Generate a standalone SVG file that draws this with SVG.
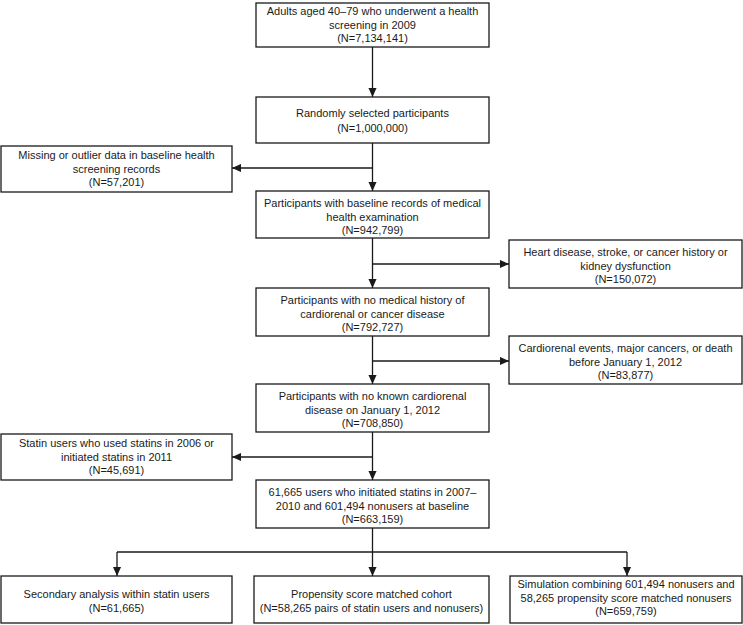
<svg xmlns="http://www.w3.org/2000/svg" width="743" height="625" viewBox="0 0 743 625">
<style>
.box{fill:#fff;stroke:#1a1a1a;stroke-width:1.3}
.t{font-family:"Liberation Sans",Arial,sans-serif;font-size:11px;fill:#1a1a1a;text-anchor:middle}
.ln{fill:none;stroke:#1a1a1a;stroke-width:1.3}
</style>
<defs>
<marker id="ah" viewBox="0 0 10 10" refX="10" refY="5" markerWidth="9" markerHeight="9" markerUnits="userSpaceOnUse" orient="auto">
<path d="M0,0.5 L10,5 L0,9.5 z" fill="#1a1a1a"/>
</marker>
</defs>
<rect width="743" height="625" fill="#fff"/>
<g id="connectors">
<path class="ln" d="M372.5,47 V97" marker-end="url(#ah)"/>
<path class="ln" d="M372.5,143 V191" marker-end="url(#ah)"/>
<path class="ln" d="M372.5,168 H232" marker-end="url(#ah)"/>
<path class="ln" d="M372.5,238 V288" marker-end="url(#ah)"/>
<path class="ln" d="M372.5,264 H509" marker-end="url(#ah)"/>
<path class="ln" d="M372.5,336 V384" marker-end="url(#ah)"/>
<path class="ln" d="M372.5,361 H509" marker-end="url(#ah)"/>
<path class="ln" d="M372.5,432 V480" marker-end="url(#ah)"/>
<path class="ln" d="M372.5,457 H232" marker-end="url(#ah)"/>
<path class="ln" d="M372.5,528 V576" marker-end="url(#ah)"/>
<path class="ln" d="M117,552 H627"/>
<path class="ln" d="M117,552 V576" marker-end="url(#ah)"/>
<path class="ln" d="M627,552 V576" marker-end="url(#ah)"/>
</g>
<g id="n1"><rect class="box" x="256" y="3" width="233" height="44"/>
<text class="t" x="372.5" y="15">Adults aged 40–79 who underwent a health</text>
<text class="t" x="372.5" y="28.5">screening in 2009</text>
<text class="t" x="372.5" y="42">(N=7,134,141)</text></g>
<g id="n2"><rect class="box" x="256" y="97" width="233" height="46"/>
<text class="t" x="372.5" y="117">Randomly selected participants</text>
<text class="t" x="372.5" y="132">(N=1,000,000)</text></g>
<g id="x1"><rect class="box" x="1" y="146" width="231" height="46"/>
<text class="t" x="116.5" y="159">Missing or outlier data in baseline health</text>
<text class="t" x="116.5" y="172.5">screening records</text>
<text class="t" x="116.5" y="186">(N=57,201)</text></g>
<g id="n3"><rect class="box" x="256" y="191" width="233" height="47"/>
<text class="t" x="372.5" y="207">Participants with baseline records of medical</text>
<text class="t" x="372.5" y="220.5">health examination</text>
<text class="t" x="372.5" y="234">(N=942,799)</text></g>
<g id="x2"><rect class="box" x="509" y="240" width="233" height="48"/>
<text class="t" x="625.5" y="256">Heart disease, stroke, or cancer history or</text>
<text class="t" x="625.5" y="269.5">kidney dysfunction</text>
<text class="t" x="625.5" y="283">(N=150,072)</text></g>
<g id="n4"><rect class="box" x="256" y="288" width="233" height="48"/>
<text class="t" x="372.5" y="304">Participants with no medical history of</text>
<text class="t" x="372.5" y="317.5">cardiorenal or cancer disease</text>
<text class="t" x="372.5" y="331">(N=792,727)</text></g>
<g id="x3"><rect class="box" x="509" y="336" width="233" height="48"/>
<text class="t" x="625.5" y="352">Cardiorenal events, major cancers, or death</text>
<text class="t" x="625.5" y="365.5">before January 1, 2012</text>
<text class="t" x="625.5" y="379">(N=83,877)</text></g>
<g id="n5"><rect class="box" x="256" y="384" width="233" height="48"/>
<text class="t" x="372.5" y="400">Participants with no known cardiorenal</text>
<text class="t" x="372.5" y="413.5">disease on January 1, 2012</text>
<text class="t" x="372.5" y="427">(N=708,850)</text></g>
<g id="x4"><rect class="box" x="1" y="434" width="231" height="46"/>
<text class="t" x="116.5" y="447">Statin users who used statins in 2006 or</text>
<text class="t" x="116.5" y="460.5">initiated statins in 2011</text>
<text class="t" x="116.5" y="474">(N=45,691)</text></g>
<g id="n6"><rect class="box" x="256" y="480" width="233" height="48"/>
<text class="t" x="372.5" y="496">61,665 users who initiated statins in 2007–</text>
<text class="t" x="372.5" y="509.5">2010 and 601,494 nonusers at baseline</text>
<text class="t" x="372.5" y="523">(N=663,159)</text></g>
<g id="b1"><rect class="box" x="1" y="576" width="231" height="47"/>
<text class="t" x="116.5" y="598">Secondary analysis within statin users</text>
<text class="t" x="116.5" y="612">(N=61,665)</text></g>
<g id="b2"><rect class="box" x="254" y="576" width="235" height="47"/>
<text class="t" x="371.5" y="598">Propensity score matched cohort</text>
<text class="t" x="371.5" y="612">(N=58,265 pairs of statin users and nonusers)</text></g>
<g id="b3"><rect class="box" x="510" y="576" width="232" height="47"/>
<text class="t" x="626" y="588">Simulation combining 601,494 nonusers and</text>
<text class="t" x="626" y="601.5">58,265 propensity score matched nonusers</text>
<text class="t" x="626" y="615">(N=659,759)</text></g>
</svg>
